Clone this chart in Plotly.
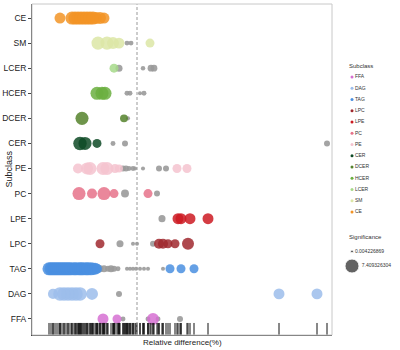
import plotly.graph_objects as go

# Subclasses, top to bottom in the plot
subclasses = ["CE", "SM", "LCER", "HCER", "DCER", "CER", "PE", "PC", "LPE", "LPC", "TAG", "DAG", "FFA"]
colors = ["#F29426", "#DCE6A6", "#A6D98A", "#6BAF40", "#55822C", "#0E4A26", "#F4C3CF",
          "#E6728A", "#CC1A22", "#A0292F", "#4A8FE0", "#9CBDEB", "#D670D2"]

# significant points (coloured): relative difference (%) and significance
CE_x = [-38.5, -32.5, -31, -29.5, -28, -26.5, -25, -23.5, -22, -20.5, -18.5, -16.5]
CE_sig = [5.3, 6.7, 6.7, 6.7, 6.7, 6.7, 6.7, 6.7, 6.7, 6.0, 6.0, 5.3]
SM_x = [-19.5, -15, -12, -9, 6.5]
SM_sig = [6.7, 6.7, 6.0, 5.3, 4.0]
LCER_x = [-11.5]
LCER_sig = [4.0]
HCER_x = [-20, -17.5, -16]
HCER_sig = [6.7, 6.7, 6.7]
DCER_x = [-27.5, -6.5]
DCER_sig = [6.7, 3.3]
CER_x = [-28.5, -26, -20]
CER_sig = [7.0, 6.7, 4.0]
PE_x = [-29.5, -25, -23.5, -17, -15, -11, -9, 20, 25]
PE_sig = [4.7, 6.0, 6.7, 6.7, 6.7, 4.0, 3.3, 4.0, 4.0]
PC_x = [-29, -22.5, -16.5, -11.5, 5.5]
PC_sig = [6.7, 4.7, 6.7, 4.0, 4.0]
LPE_x = [20.5, 22, 26.5, 35.5]
LPE_sig = [5.3, 5.3, 5.3, 5.3]
LPC_x = [-18.5, 11, 13, 15.5, 19, 25.5]
LPC_sig = [4.0, 4.7, 4.7, 4.0, 4.0, 6.0]
TAG_x = [-44, -43, -42, -41, -40, -39, -38, -37, -36, -35, -34, -33, -31.5,
         -30.5, -29, -28, -27, -25.5, -24.5, -23, -22, -21, -20, 16.5, 22, 28.5]
TAG_sig = [6.7, 6.7, 6.7, 6.7, 6.7, 6.7, 6.7, 6.7, 6.7, 6.7, 6.7, 6.7, 6.7,
           6.7, 6.7, 6.7, 6.7, 6.7, 6.7, 6.7, 6.0, 6.0, 4.7, 4.0, 4.0, 4.0]
DAG_x = [-42, -38.5, -36.5, -34.5, -32.5, -30.5, -28.5, -22.5, 71, 90]
DAG_sig = [4.7, 7.0, 7.0, 7.0, 7.0, 7.0, 7.0, 6.0, 5.3, 5.3]
FFA_x = [-17, -10, 8]
FFA_sig = [5.3, 4.0, 6.0]

# non-significant points (grey)
CE_ns_x, CE_ns_sig = [], []
SM_ns_x, SM_ns_sig = [-5, -3], [1.3, 1.3]
LCER_ns_x, LCER_ns_sig = [-9, 3, 7, 8.5], [2.7, 1.0, 2.5, 2.5]
HCER_ns_x, HCER_ns_sig = [-5, -3.5, 1.5, 3.5], [1.3, 1.3, 0.7, 1.3]
DCER_ns_x, DCER_ns_sig = [-4.5], [0.7]
CER_ns_x, CER_ns_sig = [-12, -6, 95], [1.3, 2.0, 2.0]
PE_ns_x, PE_ns_sig = [-7, -5.5, -4, -2, -1, 3, 11, 14.5], [2.0, 2.0, 1.3, 1.3, 0.7, 0.7, 2.0, 2.0]
PC_ns_x, PC_ns_sig = [-6, 10], [3.3, 2.0]
LPE_ns_x, LPE_ns_sig = [12.5], [2.7]
LPC_ns_x, LPC_ns_sig = [-8.5, -2, 0, 8], [2.7, 0.7, 0.7, 2.0]
TAG_ns_x = [-18.5, -16.5, -14.5, -13, -11.5, -9.5, -5, -3.5, -2, -0.5, 1.5, 3.5, 5.5, 13]
TAG_ns_sig = [2.7, 2.7, 2.0, 2.7, 2.0, 1.3, 0.7, 0.7, 0.7, 0.7, 0.7, 0.7, 0.7, 0.7]
DAG_ns_x, DAG_ns_sig = [-9], [2.0]
FFA_ns_x, FFA_ns_sig = [-7, 5.5, 10.5, 21.5], [1.3, 1.3, 1.3, 2.0]

sig_x = [CE_x, SM_x, LCER_x, HCER_x, DCER_x, CER_x, PE_x, PC_x, LPE_x, LPC_x, TAG_x, DAG_x, FFA_x]
sig_s = [CE_sig, SM_sig, LCER_sig, HCER_sig, DCER_sig, CER_sig, PE_sig, PC_sig, LPE_sig, LPC_sig, TAG_sig, DAG_sig, FFA_sig]
ns_x = [CE_ns_x, SM_ns_x, LCER_ns_x, HCER_ns_x, DCER_ns_x, CER_ns_x, PE_ns_x, PC_ns_x, LPE_ns_x,
        LPC_ns_x, TAG_ns_x, DAG_ns_x, FFA_ns_x]
ns_s = [CE_ns_sig, SM_ns_sig, LCER_ns_sig, HCER_ns_sig, DCER_ns_sig, CER_ns_sig, PE_ns_sig, PC_ns_sig,
        LPE_ns_sig, LPC_ns_sig, TAG_ns_sig, DAG_ns_sig, FFA_ns_sig]

legend_order = ["FFA", "DAG", "TAG", "LPC", "LPE", "PC", "PE", "CER", "DCER", "HCER", "LCER", "SM", "CE"]
sig_legend_values = [0.004226869, 7.409326304]
sig_legend_labels = ["0.004226869", "7.409326304"]

GREY = "#9a9a9a"


def size_of(s):
    return 3 + 1.5 * s


n = len(subclasses)
ypos = {name: n - 1 - i for i, name in enumerate(subclasses)}

fig = go.Figure()

# grey non-significant points
for i, name in enumerate(subclasses):
    if ns_x[i]:
        fig.add_trace(go.Scatter(
            x=ns_x[i], y=[ypos[name]] * len(ns_x[i]), mode="markers",
            marker=dict(color=GREY, size=[size_of(s) for s in ns_s[i]], opacity=0.9, line=dict(width=0)),
            showlegend=False, hoverinfo="x"))

# coloured significant points
for i, name in enumerate(subclasses):
    fig.add_trace(go.Scatter(
        x=sig_x[i], y=[ypos[name]] * len(sig_x[i]), mode="markers",
        marker=dict(color=colors[i], size=[size_of(s) for s in sig_s[i]], opacity=0.85, line=dict(width=0)),
        name=name, showlegend=False))

# rug of all values
all_x = [v for lst in sig_x + ns_x for v in lst]
Y_MIN, Y_MAX = -0.64, n - 1 + 0.56
fig.add_trace(go.Scatter(
    x=all_x, y=[Y_MIN + 0.2] * len(all_x), mode="markers",
    marker=dict(symbol="line-ns", size=10, line=dict(width=1, color="#111")),
    showlegend=False, hoverinfo="skip"))

# custom legend on an auxiliary axis
col_of = dict(zip(subclasses, colors))
fig.add_trace(go.Scatter(
    x=[0.25] * len(legend_order), y=list(range(len(legend_order))),
    mode="markers+text", text=legend_order, textposition="middle right",
    textfont=dict(size=5, color="#333"),
    marker=dict(color=[col_of[k] for k in legend_order], size=3),
    xaxis="x2", yaxis="y2", showlegend=False, hoverinfo="skip"))
fig.add_trace(go.Scatter(
    x=[0.25, 0.25], y=[15.5, 16.8], mode="markers+text",
    text=sig_legend_labels, textposition="middle right",
    textfont=dict(size=5, color="#333"),
    marker=dict(color="#222", size=[size_of(v) for v in sig_legend_values]),
    xaxis="x2", yaxis="y2", showlegend=False, hoverinfo="skip"))

W_PLOT = 368.0
fig.update_layout(
    width=400, height=350,
    margin=dict(l=32, r=0, t=4, b=15),
    plot_bgcolor="white", paper_bgcolor="white",
    font=dict(family="Liberation Sans Narrow, Liberation Sans, Arial, sans-serif", color="#222"),
    showlegend=False,
    xaxis=dict(domain=[0, 300 / W_PLOT], range=[-52.5, 97.5], showticklabels=False, ticks="",
               showgrid=False, zeroline=False, showline=True, linecolor="#444", linewidth=1),
    yaxis=dict(range=[Y_MIN, Y_MAX], tickvals=[ypos[k] for k in subclasses], ticktext=subclasses,
               ticks="outside", ticklen=3, tickcolor="#444", tickfont=dict(size=8.5, color="#222"),
               showgrid=False, zeroline=False, showline=True, linecolor="#444", linewidth=1),
    xaxis2=dict(domain=[(336 - 32) / W_PLOT, 1], range=[0, 1], visible=False),
    yaxis2=dict(anchor="x2", domain=[0, 1], range=[22.93, -6.49], visible=False),
)

fig.add_vline(x=0, line=dict(color="#999", width=1, dash="3px,2px"))
fig.add_shape(type="rect", xref="x domain", yref="y domain", x0=0, x1=1, y0=0, y1=1,
              line=dict(color="#c8c8c8", width=1))

fig.add_annotation(text="Subclass", xref="x2", yref="y2", x=0.17, y=-1.0, xanchor="left",
                   showarrow=False, font=dict(size=6, color="#333"))
fig.add_annotation(text="Significance", xref="x2", yref="y2", x=0.17, y=14.2, xanchor="left",
                   showarrow=False, font=dict(size=6, color="#333"))
fig.add_annotation(text="Relative difference(%)", xref="x domain", yref="paper", x=0.5, y=-0.024,
                   yanchor="middle", showarrow=False,
                   font=dict(size=8, color="#222", family="Liberation Sans, Arial, sans-serif"))
fig.add_annotation(text="Subclass", xref="paper", yref="paper", x=-(32 - 8) / W_PLOT, y=0.5,
                   textangle=-90, xanchor="center", yanchor="middle", showarrow=False,
                   font=dict(size=9, color="#222", family="Liberation Sans, Arial, sans-serif"))

fig.write_html("out.html")
